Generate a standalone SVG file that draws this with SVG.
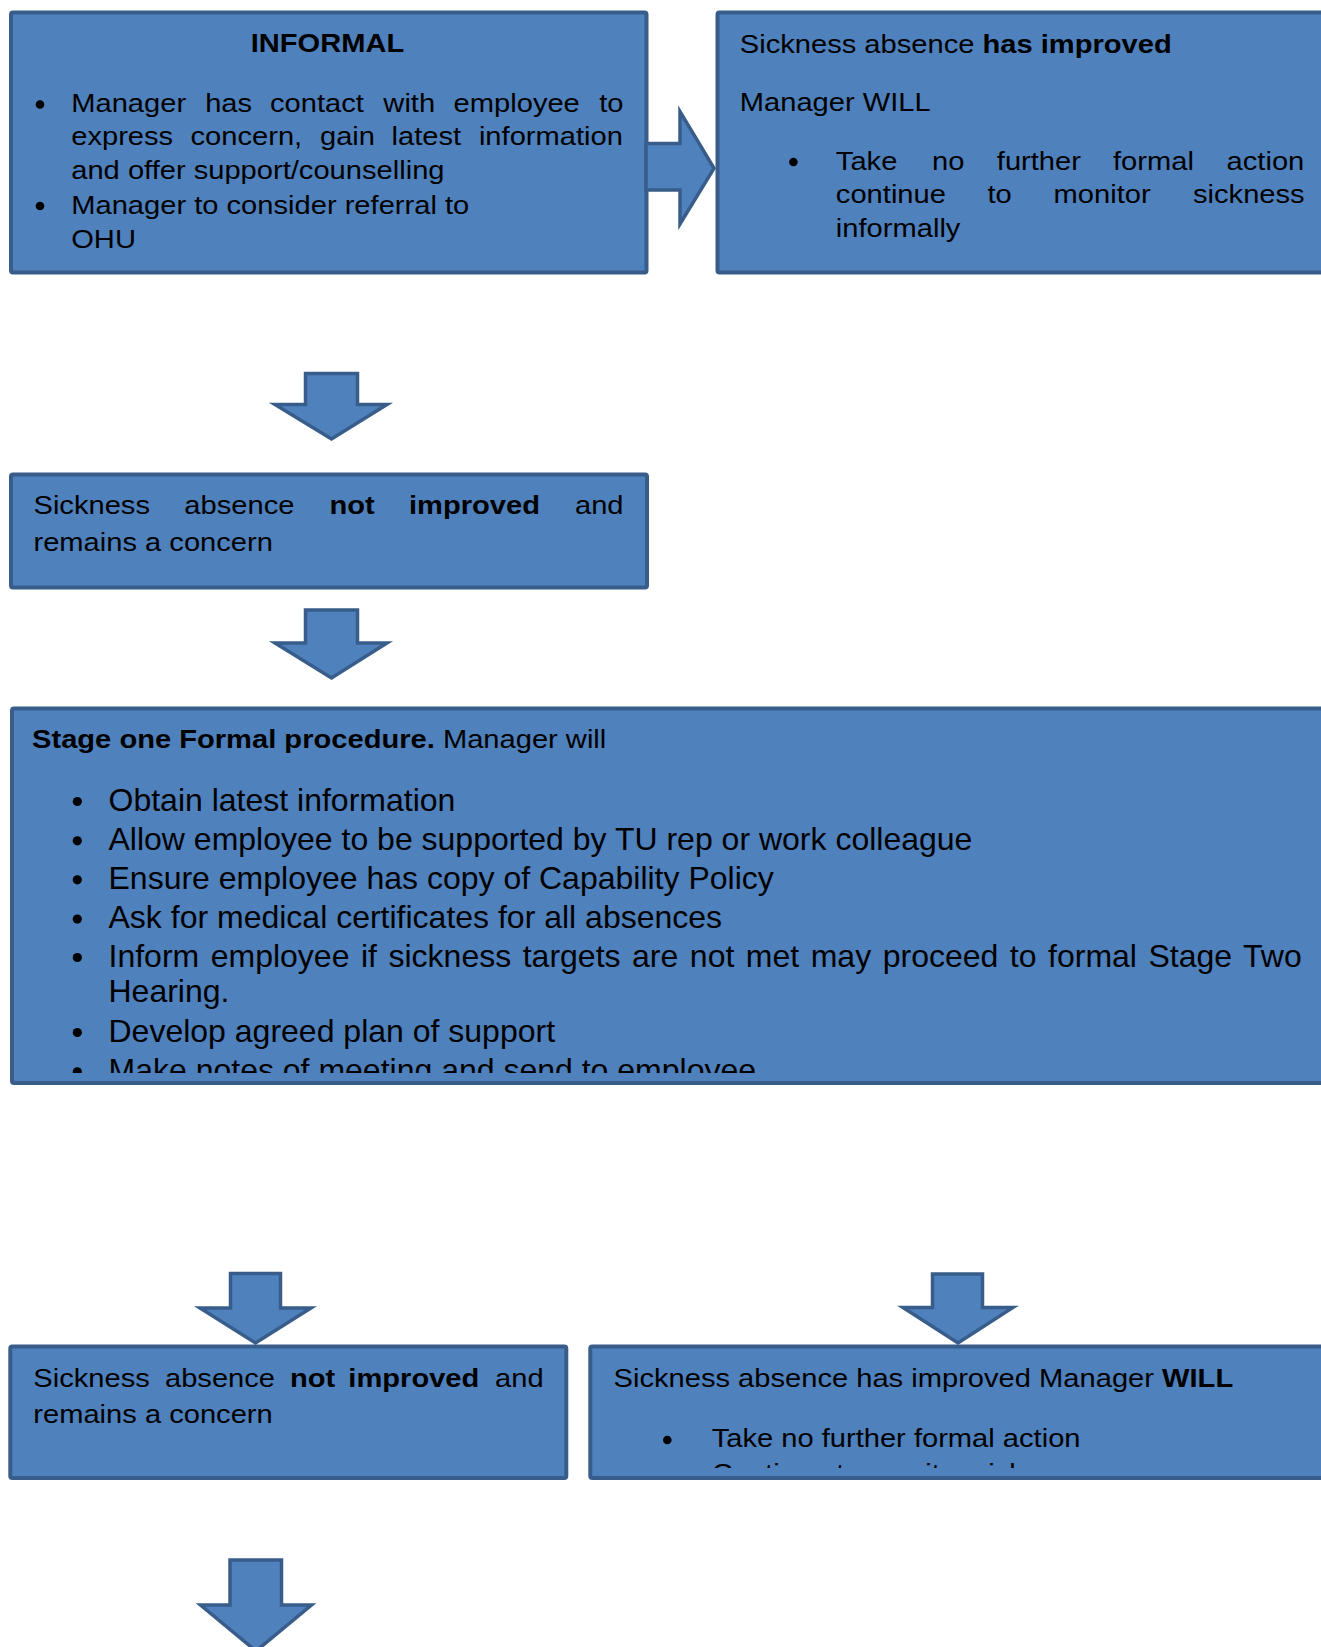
<svg xmlns="http://www.w3.org/2000/svg" width="1321" height="1647" viewBox="0 0 1321 1647">
<style>
.box{fill:#4F81BD;stroke:#385D8A;stroke-width:4}
.arr{fill:#4F81BD;stroke:#385D8A;stroke-width:3.5;stroke-linejoin:miter}
text{font-family:"Liberation Sans",Arial,Helvetica,sans-serif;fill:#000}
.t{font-size:26px}
.big{font-size:32px}
.b{font-weight:bold}
.dot{fill:#000}
</style>
<defs>
<clipPath id="clipStage"><rect x="0" y="700" width="1321" height="373"/></clipPath>
<clipPath id="clipImp2"><rect x="580" y="1340" width="741" height="128"/></clipPath>
</defs>
<rect width="1321" height="1647" fill="#fff"/>

<g id="informal">
<rect class="box" x="11" y="12.5" width="635.5" height="260" rx="2"/>
<circle class="dot" cx="40" cy="104.5" r="4.3"/>
<circle class="dot" cx="40" cy="206" r="4.3"/>
<g transform="scale(1.12 1)">
<text class="t b" x="292.4" y="52.5" text-anchor="middle">INFORMAL</text>
<text class="t" y="112.5"><tspan x="63.6">Manager</tspan><tspan x="183.2">has</tspan><tspan x="241.1">contact</tspan><tspan x="342.3">with</tspan><tspan x="405">employee</tspan><tspan x="535">to</tspan></text>
<text class="t" y="145.5"><tspan x="63.6">express</tspan><tspan x="170.1">concern,</tspan><tspan x="285.7">gain</tspan><tspan x="349.6">latest</tspan><tspan x="427.6">information</tspan></text>
<text class="t" x="63.6" y="179">and offer support/counselling</text>
<text class="t" x="63.6" y="214">Manager to consider referral to</text>
<text class="t" x="63.6" y="248.3">OHU</text>
</g>
</g>

<g id="improved1">
<rect class="box" x="717.5" y="12.5" width="700" height="260" rx="2"/>
<circle class="dot" cx="793.4" cy="162" r="4.3"/>
<g transform="scale(1.12 1)">
<text class="t" x="660.5" y="52.7">Sickness absence <tspan class="b">has improved</tspan></text>
<text class="t" x="660.5" y="111">Manager WILL</text>
<text class="t" y="170"><tspan x="746.3">Take</tspan><tspan x="832.1">no</tspan><tspan x="890">further</tspan><tspan x="993.75">formal</tspan><tspan x="1095.2">action</tspan></text>
<text class="t" y="203.3"><tspan x="746.3">continue</tspan><tspan x="881.7">to</tspan><tspan x="940.7">monitor</tspan><tspan x="1065.2">sickness</tspan></text>
<text class="t" x="746.3" y="236.7">informally</text>
</g>
</g>

<g id="notImproved1">
<rect class="box" x="11" y="474.5" width="636" height="113" rx="2"/>
<g transform="scale(1.12 1)">
<text class="t" y="514"><tspan x="29.9">Sickness</tspan><tspan x="164.6">absence</tspan><tspan class="b" x="294.2">not</tspan><tspan class="b" x="365.1">improved</tspan><tspan x="513.4">and</tspan></text>
<text class="t" x="29.9" y="550.7">remains a concern</text>
</g>
</g>

<g id="stageOne">
<rect class="box" x="12" y="708.5" width="1400" height="374.5" rx="2"/>
<g transform="scale(1.12 1)">
<text class="t" x="28.6" y="748"><tspan class="b">Stage one Formal procedure.</tspan> Manager will</text>
</g>
<g clip-path="url(#clipStage)">
<circle class="dot" cx="77.3" cy="801.5" r="4.6"/>
<circle class="dot" cx="77.3" cy="840.8" r="4.6"/>
<circle class="dot" cx="77.3" cy="879.8" r="4.6"/>
<circle class="dot" cx="77.3" cy="919.1" r="4.6"/>
<circle class="dot" cx="77.3" cy="957.5" r="4.6"/>
<circle class="dot" cx="77.3" cy="1032.5" r="4.6"/>
<circle class="dot" cx="77.3" cy="1071.8" r="4.6"/>
<text class="big" x="108.5" y="810.7">Obtain latest information</text>
<text class="big" x="108.5" y="850">Allow employee to be supported by TU rep or work colleague</text>
<text class="big" x="108.5" y="889">Ensure employee has copy of Capability Policy</text>
<text class="big" x="108.5" y="928.3">Ask for medical certificates for all absences</text>
<text class="big" x="108.5" y="966.7" word-spacing="2.63">Inform employee if sickness targets are not met may proceed to formal Stage Two</text>
<text class="big" x="108.5" y="1001.7">Hearing.</text>
<text class="big" x="108.5" y="1041.7">Develop agreed plan of support</text>
<text class="big" x="108.5" y="1081">Make notes of meeting and send to employee</text>
</g>
</g>

<g id="notImproved2">
<rect class="box" x="10.3" y="1346.5" width="556" height="131.5" rx="2"/>
<g transform="scale(1.12 1)">
<text class="t" y="1387"><tspan x="29.7">Sickness</tspan><tspan x="147.3">absence</tspan><tspan class="b" x="258.9">not</tspan><tspan class="b" x="311">improved</tspan><tspan x="442">and</tspan></text>
<text class="t" x="29.7" y="1423.3">remains a concern</text>
</g>
</g>

<g id="improved2">
<rect class="box" x="590.3" y="1346.5" width="800" height="131.5" rx="2"/>
<circle class="dot" cx="667.3" cy="1440" r="4.3"/>
<g transform="scale(1.12 1)">
<text class="t" x="547.8" y="1387">Sickness absence has improved Manager <tspan class="b">WILL</tspan></text>
<text class="t" x="635.4" y="1447.5">Take no further formal action</text>
</g>
<g clip-path="url(#clipImp2)">
<g transform="scale(1.12 1)">
<text class="t" x="635.4" y="1482.5">Continue to monitor sickness</text>
</g>
</g>
</g>

<g id="connectors">
<polygon class="arr" points="646,143.5 680,143.5 680,111.5 714,168.3 680,224 680,190 646,190"/>
<polygon class="arr" points="305.5,373.5 357.5,373.5 357.5,404.5 387,404.5 331.5,439 275,404.5 305.5,404.5"/>
<polygon class="arr" points="305.5,610 357.5,610 357.5,643 387,643 331.5,678 275,643 305.5,643"/>
<polygon class="arr" points="230.5,1273.5 280.5,1273.5 280.5,1308 311,1308 255.5,1343 200,1308 230.5,1308"/>
<polygon class="arr" points="932.5,1274 982.5,1274 982.5,1307.5 1013,1307.5 958,1343 903,1307.5 932.5,1307.5"/>
<polygon class="arr" points="230,1560 281.5,1560 281.5,1605 311.5,1605 256,1651 200.5,1605 230,1605"/>
</g>
</svg>
